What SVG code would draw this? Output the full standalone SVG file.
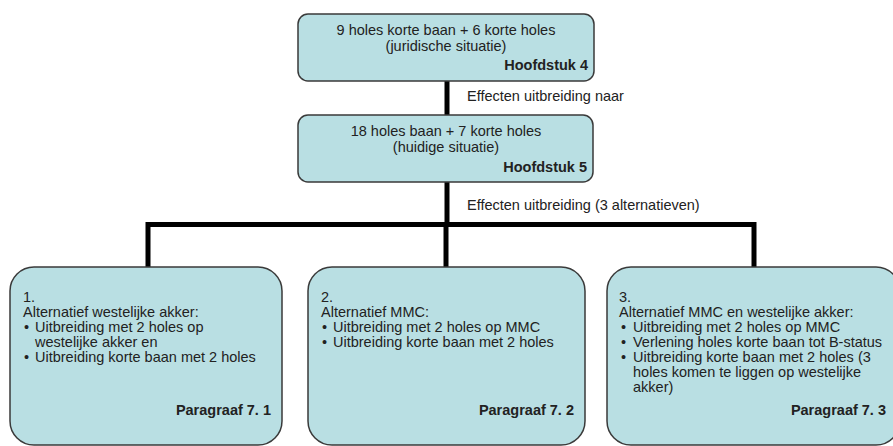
<svg xmlns="http://www.w3.org/2000/svg" width="893" height="446" viewBox="0 0 893 446">
<style>
.box{fill:#b9dfe3;stroke:#3a3a3a;stroke-width:1.5}
text{font-family:"Liberation Sans",Arial,sans-serif;font-size:14.5px;fill:#222}
.c{text-anchor:middle}
.r{text-anchor:end;font-weight:bold}
.conn{fill:none;stroke:#000;stroke-width:5;stroke-linejoin:miter;stroke-linecap:butt}
</style>
<rect width="893" height="446" fill="#fff"/>
<g id="connectors">
<path class="conn" d="M447,81 V115"/>
<path class="conn" d="M447,182 V225"/>
<path class="conn" d="M148,267 V224.5 H754 V267"/>
<path class="conn" d="M446,224.5 V267"/>
</g>
<g id="label1"><text x="467" y="101">Effecten uitbreiding naar</text></g>
<g id="label2"><text x="467" y="210">Effecten uitbreiding (3 alternatieven)</text></g>
<g id="node-hoofdstuk4">
<rect class="box" x="298" y="14" width="296" height="67" rx="10"/>
<text class="c" x="446" y="35">9 holes korte baan + 6 korte holes</text>
<text class="c" x="446" y="51">(juridische situatie)</text>
<text class="r" x="588" y="70">Hoofdstuk 4</text>
</g>
<g id="node-hoofdstuk5">
<rect class="box" x="298" y="115" width="295" height="67" rx="10"/>
<text class="c" x="446" y="136">18 holes baan + 7 korte holes</text>
<text class="c" x="446" y="152">(huidige situatie)</text>
<text class="r" x="587" y="172">Hoofdstuk 5</text>
</g>
<g id="node-alt1">
<rect class="box" x="10" y="267" width="272" height="178" rx="24"/>
<text x="23" y="302">1.</text>
<text x="23" y="317">Alternatief westelijke akker:</text>
<text x="24" y="332">•</text><text x="35" y="332">Uitbreiding met 2 holes op</text>
<text x="35" y="347">westelijke akker en</text>
<text x="24" y="362">•</text><text x="35" y="362">Uitbreiding korte baan met 2 holes</text>
<text class="r" x="271" y="415">Paragraaf 7. 1</text>
</g>
<g id="node-alt2">
<rect class="box" x="308" y="267" width="277" height="178" rx="24"/>
<text x="321" y="302">2.</text>
<text x="321" y="317">Alternatief MMC:</text>
<text x="322" y="332">•</text><text x="333" y="332">Uitbreiding met 2 holes op MMC</text>
<text x="322" y="347">•</text><text x="333" y="347">Uitbreiding korte baan met 2 holes</text>
<text class="r" x="574" y="415">Paragraaf 7. 2</text>
</g>
<g id="node-alt3">
<rect class="box" x="607" y="267" width="293" height="178" rx="24"/>
<text x="619" y="302">3.</text>
<text x="619" y="317">Alternatief MMC en westelijke akker:</text>
<text x="621" y="332">•</text><text x="633" y="332">Uitbreiding met 2 holes op MMC</text>
<text x="621" y="347">•</text><text x="633" y="347">Verlening holes korte baan tot B-status</text>
<text x="621" y="362">•</text><text x="633" y="362">Uitbreiding korte baan met 2 holes (3</text>
<text x="633" y="377">holes komen te liggen op westelijke</text>
<text x="633" y="392">akker)</text>
<text class="r" x="886" y="415">Paragraaf 7. 3</text>
</g>
</svg>
